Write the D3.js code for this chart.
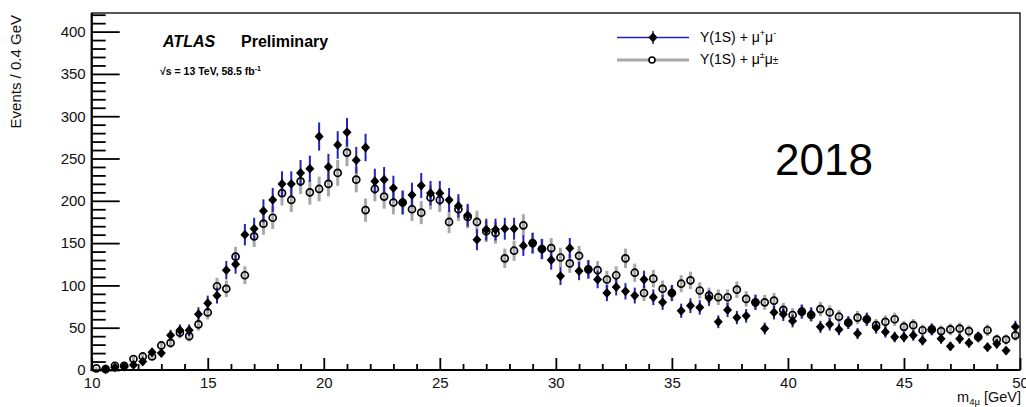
<!DOCTYPE html>
<html>
<head>
<meta charset="utf-8">
<script src="https://cdn.jsdelivr.net/npm/d3@7"></script>
<style>
  html, body { margin: 0; padding: 0; background: #fff; }
  svg { display: block; }
  text { font-family: "Liberation Sans", Arial, Helvetica, sans-serif; }
</style>
</head>
<body>
<svg id="chart" width="1026" height="407"></svg>
<script>
// Four-muon invariant mass, 0.4 GeV bins from 10 to 50 GeV
const binLow = 10, binWidth = 0.4;

// Υ(1S) + μ+μ- (opposite-sign pair), events per bin
const oppositeSign = [
  0, 1, 3, 4, 6, 10, 21, 20, 41, 47,
  47, 66, 79, 88, 118, 125, 160, 167, 188, 201,
  220, 220, 233, 238, 276, 240, 266, 281, 248, 263,
  223, 225, 215, 198, 207, 218, 209, 209, 201, 194,
  183, 154, 166, 166, 167, 167, 147, 150, 143, 130,
  111, 144, 117, 119, 107, 91, 98, 93, 88, 107,
  86, 80, 91, 70, 76, 74, 85, 57, 71, 62,
  64, 80, 49, 68, 66, 58, 69, 66, 51, 54,
  48, 56, 43, 60, 50, 45, 39, 39, 41, 35,
  48, 37, 28, 37, 32, 39, 27, 31, 23, 51
];

// Υ(1S) + μ±μ± (same-sign pair), events per bin
const sameSign = [
  2, 1, 5, 5, 13, 16, 16, 29, 32, 44,
  40, 54, 68, 99, 96, 134, 112, 158, 173, 180,
  209, 201, 223, 210, 214, 220, 233, 257, 225, 189,
  214, 205, 198, 198, 190, 186, 204, 201, 175, 190,
  181, 175, 164, 162, 132, 141, 171, 150, 143, 144,
  133, 126, 135, 119, 118, 107, 112, 132, 115, 91,
  108, 96, 91, 102, 106, 94, 88, 86, 86, 95,
  84, 80, 80, 82, 71, 65, 69, 65, 72, 68,
  63, 56, 62, 60, 53, 57, 60, 51, 53, 47,
  48, 46, 48, 49, 46, 39, 47, 36, 36, 41
];

const xMajorTicks = [10, 15, 20, 25, 30, 35, 40, 45, 50];
const yMajorTicks = [0, 50, 100, 150, 200, 250, 300, 350, 400];

const svg = d3.select("#chart");

const frameLeft = 91.7, frameRight = 1020, frameTop = 13, frameBottom = 370;
const x = d3.scaleLinear().domain([10, 50]).range([frameLeft, frameRight]);
const y = d3.scaleLinear().domain([0, 422]).range([frameBottom, frameTop]);

const toPoints = arr => arr.map((v, i) => ({ m: binLow + binWidth * (i + 0.5), v, e: Math.sqrt(v) }))
                            .filter(d => d.v > 0);
const osPts = toPoints(oppositeSign);
const ssPts = toPoints(sameSign);

const blue = "#2424b8";
const grey = "#a8a8a8";

// squat filled diamond marker
const diamondType = {
  draw(ctx, size) {
    const h = Math.sqrt(size / 2), w = h * 0.92;
    ctx.moveTo(0, -h); ctx.lineTo(w, 0); ctx.lineTo(0, h); ctx.lineTo(-w, 0); ctx.closePath();
  }
};
const diamond = d3.symbol().type(diamondType).size(48);

// frame
svg.append("rect")
  .attr("x", frameLeft).attr("y", frameTop)
  .attr("width", frameRight - frameLeft).attr("height", frameBottom - frameTop)
  .attr("fill", "none").attr("stroke", "#000").attr("stroke-width", 1.3);

// y axis: major and minor ticks pointing into the frame
const gy = svg.append("g").attr("transform", `translate(${frameLeft},0)`);
gy.call(d3.axisLeft(y).tickValues(yMajorTicks).tickSize(-28).tickPadding(6))
  .call(g => g.select(".domain").remove());
gy.selectAll(".tick line").attr("stroke-width", 1.8);
gy.selectAll("text").attr("font-size", 15).attr("fill", "#111");

svg.append("g").attr("transform", `translate(${frameLeft},0)`)
  .call(d3.axisLeft(y).tickValues(d3.range(0, 421, 10).filter(v => v % 50 !== 0))
        .tickSize(-14).tickFormat(""))
  .call(g => g.select(".domain").remove())
  .selectAll(".tick line").attr("stroke-width", 1.8);

// x axis
const gx = svg.append("g").attr("transform", `translate(0,${frameBottom})`);
gx.call(d3.axisBottom(x).tickValues(xMajorTicks).tickSize(-12).tickPadding(7).tickFormat(d3.format("d")))
  .call(g => g.select(".domain").remove());
gx.selectAll(".tick line").attr("stroke-width", 1.8);
gx.selectAll("text").attr("font-size", 15).attr("fill", "#111");

svg.append("g").attr("transform", `translate(0,${frameBottom})`)
  .call(d3.axisBottom(x).tickValues(d3.range(11, 50, 1).filter(v => v % 5 !== 0))
        .tickSize(-6).tickFormat(""))
  .call(g => g.select(".domain").remove())
  .selectAll(".tick line").attr("stroke-width", 1.8);

// heavier axis lines
svg.append("line").attr("x1", frameLeft).attr("x2", frameLeft).attr("y1", frameTop).attr("y2", frameBottom + 1)
  .attr("stroke", "#000").attr("stroke-width", 2.2);
svg.append("line").attr("x1", frameLeft - 1).attr("x2", frameRight).attr("y1", frameBottom).attr("y2", frameBottom)
  .attr("stroke", "#000").attr("stroke-width", 2.2);

// axis titles
svg.append("text")
  .attr("transform", `translate(21,15) rotate(-90)`)
  .attr("text-anchor", "end")
  .attr("font-size", 15)
  .attr("fill", "#111")
  .text("Events / 0.4 GeV");

const xt = svg.append("text")
  .attr("x", 1021).attr("y", 402)
  .attr("text-anchor", "end")
  .attr("font-size", 14.5)
  .attr("fill", "#111");
xt.append("tspan").text("m");
xt.append("tspan").attr("font-size", 9.5).attr("dy", 3).text("4μ");
xt.append("tspan").attr("dy", -3).text(" [GeV]");

// data: same-sign series error bars
const plot = svg.append("g");
plot.selectAll("line.ss").data(ssPts).join("line")
  .attr("class", "ss")
  .attr("x1", d => x(d.m)).attr("x2", d => x(d.m))
  .attr("y1", d => y(d.v + d.e)).attr("y2", d => y(Math.max(0, d.v - d.e)))
  .attr("stroke", grey).attr("stroke-width", 3);

// opposite-sign series error bars
plot.selectAll("line.os").data(osPts).join("line")
  .attr("class", "os")
  .attr("x1", d => x(d.m)).attr("x2", d => x(d.m))
  .attr("y1", d => y(d.v + d.e)).attr("y2", d => y(Math.max(0, d.v - d.e)))
  .attr("stroke", blue).attr("stroke-width", 2);

plot.selectAll("circle.ss").data(ssPts).join("circle")
  .attr("class", "ss")
  .attr("cx", d => x(d.m)).attr("cy", d => y(d.v))
  .attr("r", 3.5)
  .attr("fill", "none").attr("stroke", "#000").attr("stroke-width", 1.7);

plot.selectAll("path.os").data(osPts).join("path")
  .attr("class", "os")
  .attr("transform", d => `translate(${x(d.m)},${y(d.v)})`)
  .attr("d", diamond)
  .attr("fill", "#000");

// labels
svg.append("text").attr("x", 163).attr("y", 47)
  .attr("font-size", 16).attr("font-weight", "bold").attr("font-style", "italic")
  .text("ATLAS");
svg.append("text").attr("x", 241).attr("y", 47)
  .attr("font-size", 16).attr("font-weight", "bold")
  .text("Preliminary");
svg.append("text").attr("x", 160).attr("y", 75)
  .attr("font-size", 10.5).attr("font-weight", "bold")
  .html('√s = 13 TeV, 58.5 fb<tspan font-size="7" dy="-4">-1</tspan>');

// legend
const legend = svg.append("g");
legend.append("line").attr("x1", 617).attr("x2", 689).attr("y1", 37.5).attr("y2", 37.5)
  .attr("stroke", blue).attr("stroke-width", 1.5);
legend.append("line").attr("x1", 653).attr("x2", 653).attr("y1", 31).attr("y2", 44)
  .attr("stroke", blue).attr("stroke-width", 1.5);
legend.append("path").attr("transform", "translate(653,37.5)").attr("d", diamond).attr("fill", "#000");
legend.append("line").attr("x1", 617).attr("x2", 689).attr("y1", 60).attr("y2", 60)
  .attr("stroke", grey).attr("stroke-width", 3);
legend.append("circle").attr("cx", 652).attr("cy", 60).attr("r", 3)
  .attr("fill", "#fff").attr("stroke", "#000").attr("stroke-width", 1.6);

legend.append("text").attr("x", 700).attr("y", 42).attr("font-size", 14)
  .html('Υ(1S) + μ<tspan font-size="9" dy="-6">+</tspan><tspan dy="6">μ</tspan><tspan font-size="9" dy="-6">-</tspan>');
legend.append("text").attr("x", 700).attr("y", 64).attr("font-size", 14)
  .html('Υ(1S) + μ<tspan font-size="9" dy="-6">±</tspan><tspan dy="6">μ</tspan><tspan font-size="10">±</tspan>');

// year tag
svg.append("text").attr("x", 775).attr("y", 175)
  .attr("font-family", "Lato, 'Open Sans', sans-serif")
  .attr("font-size", 44)
  .attr("fill", "#000")
  .text("2018");
</script>
</body>
</html>
